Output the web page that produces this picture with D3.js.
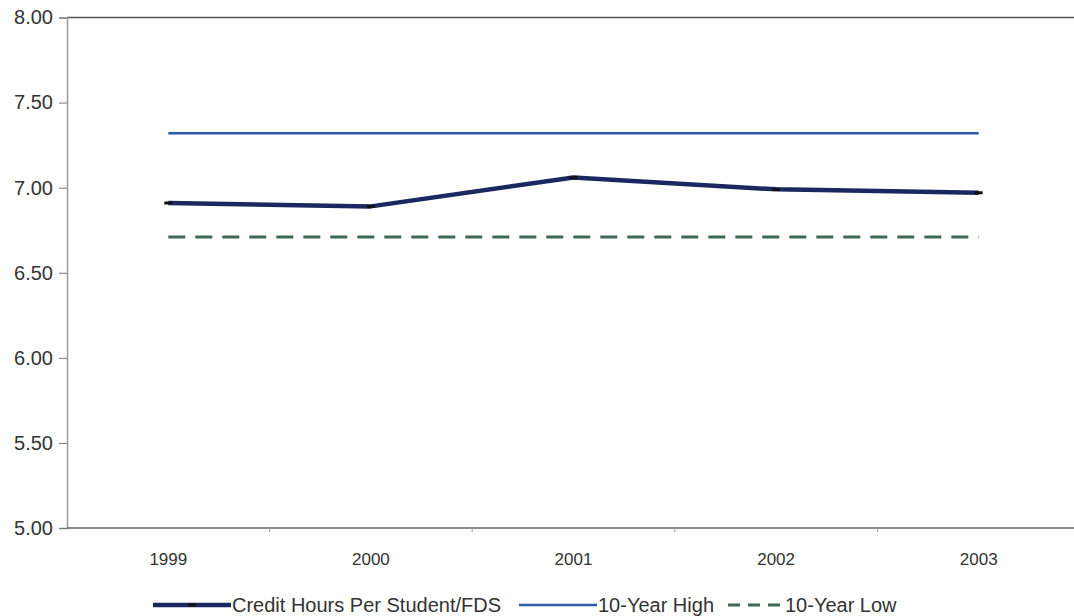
<!DOCTYPE html>
<html>
<head>
<meta charset="utf-8">
<script src="https://cdn.jsdelivr.net/npm/d3@7"></script>
<style>
  body { margin: 0; background: #fff; }
  svg text { font-family: "Liberation Sans", Arial, sans-serif; fill: #333; }
</style>
</head>
<body>
<div id="chart"></div>
<script>
// values
const years = ["1999", "2000", "2001", "2002", "2003"];
const creditHours = [6.91, 6.89, 7.06, 6.99, 6.97];
const tenYearHigh = [7.32, 7.32, 7.32, 7.32, 7.32];
const tenYearLow = [6.71, 6.71, 6.71, 6.71, 6.71];
const yTicks = [5.0, 5.5, 6.0, 6.5, 7.0, 7.5, 8.0];
const seriesNames = ["Credit Hours Per Student/FDS", "10-Year High", "10-Year Low"];

const width = 1074, height = 616;
const plotLeft = 67, plotTop = 17.5, plotBottom = 528, plotRight = 1080;

const svg = d3.select("#chart").append("svg")
    .attr("width", width)
    .attr("height", height);

const x = d3.scaleBand().domain(years).range([plotLeft, plotRight]);
const y = d3.scaleLinear().domain([5, 8]).range([plotBottom, plotTop]);
const cx = d => x(d) + x.bandwidth() / 2;

// top border of the plot area
svg.append("line")
    .attr("x1", plotLeft).attr("x2", width)
    .attr("y1", y(8)).attr("y2", y(8))
    .attr("stroke", "#555").attr("stroke-width", 1.5);

// y axis
const yAxis = svg.append("g")
    .attr("transform", "translate(" + plotLeft + ",0)")
    .call(d3.axisLeft(y).tickValues(yTicks).tickFormat(d3.format(".2f")).tickSize(8).tickPadding(6));
yAxis.select(".domain").attr("stroke", "#999").attr("stroke-width", 1.5);
yAxis.selectAll(".tick line").attr("stroke", "#777");
yAxis.selectAll("text").style("font-size", "20px").attr("fill", "#333");

// x axis, ticks between categories
const xAxis = svg.append("g")
    .attr("transform", "translate(0," + plotBottom + ")")
    .call(d3.axisBottom(x).tickSize(0).tickPadding(37));
xAxis.select(".domain").remove();
xAxis.selectAll("text").style("font-size", "17px").attr("fill", "#333").attr("dy", 0);
svg.append("line")
    .attr("x1", plotLeft).attr("x2", width)
    .attr("y1", plotBottom).attr("y2", plotBottom)
    .attr("stroke", "#666").attr("stroke-width", 1.5);
svg.selectAll(".xsep")
    .data(years.slice(1))
    .enter()
    .append("line")
    .attr("class", "xsep")
    .attr("x1", d => x(d)).attr("x2", d => x(d))
    .attr("y1", plotBottom).attr("y2", plotBottom + 4)
    .attr("stroke", "#999");

const line = d3.line()
    .x((d, i) => cx(years[i]))
    .y(d => y(d));

svg.append("path")
    .datum(tenYearHigh)
    .attr("d", line)
    .attr("fill", "none")
    .attr("stroke", "#2d5aa6")
    .attr("stroke-width", 2.5);

svg.append("path")
    .datum(tenYearLow)
    .attr("d", line)
    .attr("fill", "none")
    .attr("stroke", "#3e6a52")
    .attr("stroke-width", 3)
    .attr("stroke-dasharray", "17,10");

svg.append("path")
    .datum(creditHours)
    .attr("d", line)
    .attr("fill", "none")
    .attr("stroke", "#1a2862")
    .attr("stroke-width", 4.5)
    .attr("stroke-linejoin", "round");

// small dark markers at each point
svg.selectAll(".mark")
    .data(creditHours)
    .enter()
    .append("rect")
    .attr("class", "mark")
    .attr("x", (d, i) => cx(years[i]) - 4)
    .attr("y", d => y(d) - 1.5)
    .attr("width", 8)
    .attr("height", 3)
    .attr("fill", "#111");

// legend
const ly = 605;
const legend = svg.append("g");
legend.append("line")
    .attr("x1", 153).attr("x2", 231).attr("y1", ly).attr("y2", ly)
    .attr("stroke", "#1a2862").attr("stroke-width", 4.5);
legend.append("rect")
    .attr("x", 188).attr("y", ly - 1.5).attr("width", 8).attr("height", 3).attr("fill", "#111");
legend.append("text").attr("x", 232).attr("y", ly + 7)
    .style("font-size", "20px").text(seriesNames[0]);

legend.append("line")
    .attr("x1", 519).attr("x2", 597).attr("y1", ly).attr("y2", ly)
    .attr("stroke", "#2d5aa6").attr("stroke-width", 2.5);
legend.append("text").attr("x", 598).attr("y", ly + 7)
    .style("font-size", "20px").text(seriesNames[1]);

legend.append("line")
    .attr("x1", 728).attr("x2", 780).attr("y1", ly).attr("y2", ly)
    .attr("stroke", "#3e6a52").attr("stroke-width", 3).attr("stroke-dasharray", "12,8");
legend.append("text").attr("x", 785).attr("y", ly + 7)
    .style("font-size", "20px").text(seriesNames[2]);
</script>
</body>
</html>
